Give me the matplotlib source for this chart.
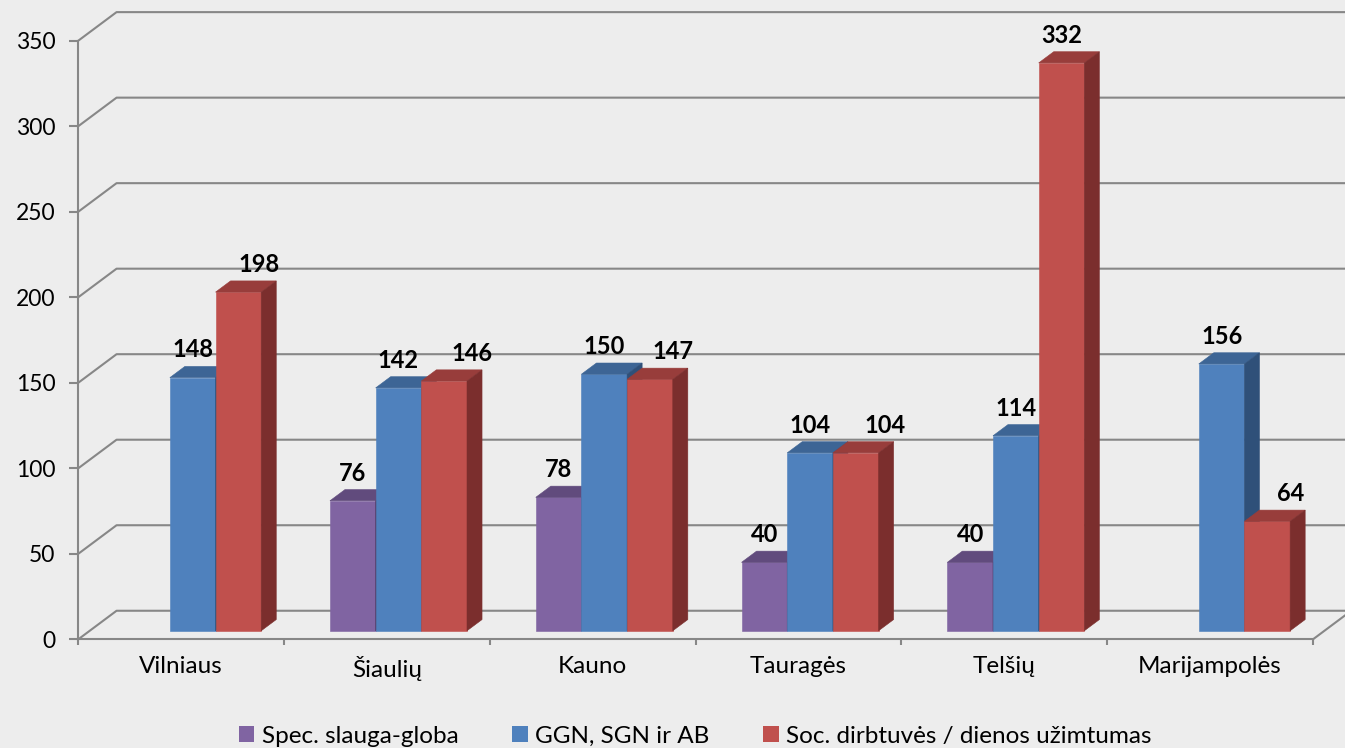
import numpy as np
import matplotlib.pyplot as plt
from matplotlib.patches import Rectangle, Polygon, Patch

plt.rcParams['font.family'] = ['Lato', 'DejaVu Sans']

# Data
regions = ['Vilniaus', 'Šiaulių', 'Kauno', 'Tauragės', 'Telšių', 'Marijampolės']
series_names = ['Spec. slauga-globa', 'GGN, SGN ir AB', 'Soc. dirbtuvės / dienos užimtumas']
spec_slauga = [np.nan, 76, 78, 40, 40, np.nan]
ggn_sgn_ab = [148, 142, 150, 104, 114, 156]
soc_dirbtuves = [198, 146, 147, 104, 332, 64]
y_ticks = [0, 50, 100, 150, 200, 250, 300, 350]

series = [spec_slauga, ggn_sgn_ab, soc_dirbtuves]
front_cols = ['#8064A2', '#4F81BD', '#C0504D']
top_cols = ['#614B7D', '#3D6595', '#983D3B']
side_cols = ['#4E3C66', '#2F5079', '#7B2E2D']
# label x nudges (pixels) to mimic the original placement
nudges = [[0] * 6, [0] * 6, [21, 28, 23, 29, 0, 23]]

grid_col = '#878787'
bg = '#EDEDED'

fig = plt.figure(figsize=(13.45, 7.48), dpi=100, facecolor=bg)
ax = fig.add_axes([0.0582, 0.1453, 0.918, 0.8003])
ax.set_facecolor('none')
ax.set_xlim(0, 6)
ax.set_ylim(0, 350)

# 3D look: wall depth and bar geometry in data units
wall_dx, wall_dy = 0.186, 16.7
front_dx, front_dy = 0.056, 5.0
bar_dx, bar_dy = 0.073, 6.55
bw = 0.222

# back wall gridlines with diagonal connectors
for v in y_ticks:
    ax.plot([0, wall_dx, 6 + wall_dx], [v, v + wall_dy, v + wall_dy],
            color=grid_col, lw=1.5, clip_on=False, zorder=1)
ax.plot([6, 6 + wall_dx], [0, wall_dy], color=grid_col, lw=1.5, clip_on=False, zorder=1)

# bars
z = 3
for c in range(len(regions)):
    left = c + 0.5 - 1.5 * bw + front_dx
    for s in range(3):
        v = series[s][c]
        if np.isnan(v):
            continue
        x0 = left + s * bw
        y0 = front_dy
        y1 = y0 + v
        ax.add_patch(Rectangle((x0, y0), bw, v, facecolor=front_cols[s],
                               edgecolor=front_cols[s], lw=0.4, zorder=z))
        ax.add_patch(Polygon([(x0, y1), (x0 + bw, y1), (x0 + bw + bar_dx, y1 + bar_dy),
                              (x0 + bar_dx, y1 + bar_dy)], closed=True,
                             facecolor=top_cols[s], edgecolor=top_cols[s], lw=0.4, zorder=z))
        ax.add_patch(Polygon([(x0 + bw, y0), (x0 + bw + bar_dx, y0 + bar_dy),
                              (x0 + bw + bar_dx, y1 + bar_dy), (x0 + bw, y1)], closed=True,
                             facecolor=side_cols[s], edgecolor=side_cols[s], lw=0.4, zorder=z))
        z += 1
        ax.annotate(f'{int(v)}', xy=(x0 + bw / 2, y1 + bar_dy + 5.3),
                    xytext=(nudges[s][c] * 0.72, 0), textcoords='offset points',
                    ha='center', va='baseline', fontsize=17, fontweight='bold',
                    zorder=50, annotation_clip=False)

# axes styling
for sp in ['top', 'right']:
    ax.spines[sp].set_visible(False)
for sp in ['left', 'bottom']:
    ax.spines[sp].set_color(grid_col)
    ax.spines[sp].set_linewidth(1.5)
    ax.spines[sp].set_zorder(2)

ax.set_yticks(y_ticks)
ax.tick_params(axis='y', length=6.5, width=1.5, color=grid_col, pad=10, labelsize=16.5)
ax.set_xticks(range(len(regions) + 1))
ax.set_xticklabels([])
ax.tick_params(axis='x', which='major', length=4.3, width=1.5, color=grid_col)
ax.set_xticks(np.arange(len(regions)) + 0.5, minor=True)
ax.set_xticklabels(regions, minor=True)
ax.tick_params(axis='x', which='minor', length=0, pad=12, labelsize=17.5)

handles = [Patch(facecolor=front_cols[i], edgecolor='none') for i in range(3)]
fig.legend(handles, series_names, loc='center', bbox_to_anchor=(0.5167, 0.016),
           ncol=3, frameon=False, fontsize=17.5, handlelength=0.65, handleheight=0.65,
           handletextpad=0.3, columnspacing=2.2)

plt.savefig('out.png', dpi=100, facecolor=bg)
